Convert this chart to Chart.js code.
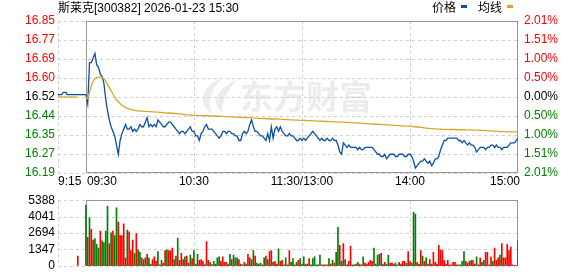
<!DOCTYPE html>
<html>
<head>
<meta charset="utf-8">
<script src="https://cdn.jsdelivr.net/npm/chart.js@4.4.1/dist/chart.umd.min.js"></script>
<style>
  html, body { margin: 0; padding: 0; background: #fff; }
  #wrap { position: relative; width: 578px; height: 276px; }
  canvas { position: absolute; left: 0; }
  #pc { top: 0; }
  #vc { top: 190px; }
</style>
</head>
<body>
<div id="wrap">
  <canvas id="pc" width="578" height="190"></canvas>
  <canvas id="vc" width="578" height="86"></canvas>
</div>
<script>
// 斯莱克[300382] 分时 2026-01-23
const title = "斯莱克[300382] 2026-01-23 15:30";
const legendNames = ["价格", "均线"];
const prevClose = 16.52;

// 横轴: 09:30 = 0, 单位 分钟
const xTickValues = [-15.5, 0, 60, 120, 180, 240];
const xTickLabels = ["9:15", "09:30", "10:30", "11:30/13:00", "14:00", "15:00"];

const priceTicks = [16.188, 16.271, 16.354, 16.437, 16.52, 16.603, 16.686, 16.769, 16.852];
const priceTickLabels = ["16.19", "16.27", "16.35", "16.44", "16.52", "16.60", "16.69", "16.77", "16.85"];
const pctTicks = [-2.01, -1.5075, -1.005, -0.5025, 0, 0.5025, 1.005, 1.5075, 2.01];
const pctTickLabels = ["2.01%", "1.51%", "1.00%", "0.50%", "0.00%", "0.50%", "1.00%", "1.51%", "2.01%"];
const volTicks = [0, 1347, 2694, 4041, 5388];
const volTickLabels = ["0", "1347", "2694", "4041", "5388"];

// 集合竞价 9:15-9:30
const preX = [-15.5, -13.5, -12.5, -11, -10.5, 0];
const prePrice = [16.53, 16.53, 16.54, 16.54, 16.53, 16.53];
const preAvgX = [-15.5, -5];
const preAvg = [16.52, 16.52];
const preVolX = [-4.5];
const preVol = [800];

// 每分钟价格 (09:30 ~ 15:00)
const price = [
  16.53,16.49,16.67,16.67,16.69,16.71,16.66,16.65,16.62,16.61,
  16.58,16.51,16.46,16.42,16.39,16.37,16.35,16.31,16.27,16.33,
  16.36,16.38,16.40,16.38,16.38,16.39,16.37,16.38,16.37,16.38,
  16.40,16.39,16.39,16.41,16.43,16.39,16.40,16.39,16.40,16.39,
  16.42,16.41,16.40,16.39,16.39,16.40,16.41,16.41,16.40,16.39,
  16.38,16.37,16.36,16.37,16.37,16.36,16.37,16.38,16.39,16.37,
  16.37,16.35,16.35,16.33,16.36,16.37,16.39,16.40,16.38,16.38,
  16.38,16.37,16.36,16.35,16.34,16.35,16.37,16.37,16.36,16.37,
  16.37,16.36,16.36,16.35,16.35,16.33,16.33,16.36,16.37,16.36,
  16.37,16.40,16.42,16.39,16.37,16.37,16.36,16.35,16.35,16.34,
  16.33,16.36,16.33,16.39,16.34,16.38,16.39,16.37,16.39,16.37,
  16.36,16.35,16.35,16.36,16.35,16.35,16.34,16.33,16.33,16.34,
  16.33,16.34,16.33,16.34,16.35,16.36,16.37,16.36,16.35,16.34,
  16.33,16.34,16.33,16.33,16.34,16.33,16.33,16.34,16.33,16.33,
  16.31,16.28,16.27,16.32,16.31,16.30,16.31,16.30,16.30,16.30,
  16.30,16.29,16.30,16.29,16.29,16.30,16.30,16.30,16.30,16.30,
  16.29,16.28,16.27,16.27,16.26,16.26,16.27,16.25,16.26,16.27,
  16.27,16.27,16.26,16.26,16.27,16.27,16.27,16.26,16.26,16.27,
  16.27,16.26,16.24,16.21,16.22,16.23,16.24,16.24,16.25,16.24,
  16.23,16.24,16.22,16.23,16.25,16.25,16.26,16.29,16.31,16.33,
  16.33,16.34,16.34,16.34,16.34,16.34,16.34,16.33,16.33,16.32,
  16.33,16.32,16.31,16.32,16.31,16.31,16.30,16.28,16.29,16.30,
  16.30,16.30,16.29,16.30,16.30,16.31,16.31,16.30,16.31,16.30,
  16.30,16.29,16.30,16.30,16.30,16.31,16.32,16.32,16.32,16.33,
  16.34
];

// 均价
const avgPrice = [
  16.520,16.512,16.540,16.570,16.590,16.600,16.605,16.607,16.607,16.606,
  16.600,16.590,16.575,16.560,16.548,16.532,16.520,16.507,16.500,16.492,
  16.485,16.479,16.475,16.471,16.468,16.466,16.464,16.462,16.460,16.459,
  16.458,16.458,16.457,16.457,16.457,16.456,16.456,16.455,16.455,16.454,
  16.454,16.453,16.453,16.452,16.451,16.450,16.450,16.449,16.449,16.448,
  16.448,16.447,16.446,16.445,16.444,16.443,16.442,16.441,16.441,16.441,
  16.440,16.440,16.440,16.439,16.439,16.439,16.438,16.438,16.438,16.437,
  16.437,16.437,16.436,16.436,16.436,16.435,16.435,16.434,16.434,16.433,
  16.433,16.433,16.432,16.432,16.432,16.431,16.431,16.431,16.430,16.430,
  16.430,16.430,16.429,16.429,16.428,16.428,16.427,16.427,16.426,16.426,
  16.426,16.425,16.425,16.424,16.424,16.424,16.423,16.423,16.423,16.422,
  16.422,16.421,16.421,16.420,16.420,16.420,16.419,16.419,16.419,16.418,
  16.418,16.418,16.418,16.417,16.417,16.417,16.416,16.416,16.416,16.415,
  16.415,16.414,16.414,16.413,16.413,16.412,16.412,16.412,16.411,16.411,
  16.410,16.410,16.410,16.410,16.409,16.409,16.409,16.408,16.408,16.407,
  16.407,16.406,16.406,16.405,16.405,16.404,16.404,16.403,16.403,16.402,
  16.402,16.401,16.401,16.400,16.400,16.399,16.399,16.398,16.398,16.397,
  16.397,16.396,16.396,16.395,16.395,16.394,16.394,16.393,16.393,16.393,
  16.393,16.392,16.391,16.390,16.389,16.388,16.387,16.386,16.385,16.384,
  16.383,16.383,16.382,16.381,16.381,16.380,16.380,16.380,16.379,16.379,
  16.379,16.379,16.378,16.378,16.378,16.378,16.377,16.377,16.377,16.377,
  16.377,16.376,16.376,16.376,16.376,16.375,16.375,16.375,16.375,16.374,
  16.374,16.374,16.373,16.373,16.372,16.372,16.371,16.371,16.370,16.370,
  16.369,16.369,16.369,16.368,16.368,16.368,16.368,16.368,16.368,16.368,
  16.368
];

// 成交量 (手)
const volume = [
  4980,2340,3950,3000,2120,2240,1760,1460,2850,2050,
  1900,2850,4900,1830,2710,2850,2490,4760,3590,2490,
  2490,3440,660,2930,2780,1240,2120,1020,2640,1320,
  1100,660,510,660,950,660,150,510,730,370,
  1170,70,440,220,1240,1320,1240,1240,1460,510,
  800,2270,440,1020,510,730,800,220,880,590,
  1240,150,950,440,510,370,100,1980,440,290,
  100,370,150,660,730,370,730,290,290,150,
  950,510,880,660,660,510,150,70,290,150,
  950,660,510,1240,800,220,150,220,70,660,
  800,510,1170,1240,290,370,150,1390,370,440,
  70,660,70,1240,290,590,70,290,440,590,
  150,730,150,150,590,70,590,730,70,70,
  880,70,70,70,70,590,150,440,220,1100,
  3150,1680,370,1830,510,70,370,1610,70,70,
  150,290,150,70,730,220,150,290,440,370,
  1460,150,880,950,1020,150,290,150,880,220,
  220,150,220,70,290,150,370,370,220,1170,
  340,220,4390,4250,290,150,1240,800,370,660,
  150,510,150,1100,290,150,1680,1320,1240,440,
  150,440,70,70,290,290,70,70,70,370,
  1170,370,220,370,440,440,150,730,70,660,
  290,440,1100,1100,70,730,370,1460,440,660,
  880,1830,660,660,1760,1240,1540,70,0,0,
  2050
];
// R = 上涨 (红), G = 下跌 (绿)
const volDir = (
  "GRGRRGGGRG" + "GGGRGRGGRR" + "RRRGRRRGRG" + "GRRGRGGRRR" +
  "GRGRRGRRRG" + "RGRRRGRRGR" + "GRGRRRGRRG" + "RGGGGRRRRG" +
  "GRGGGRRGRG" + "RRGGRGGGRG" + "RGRRGRRGRR" + "RGGRGGRGRG" +
  "GGGRRRGGGG" + "GRRRRGRGRG" + "GRGRGRRRGG" + "RGRRGRRRRR" +
  "GGGGRGRGGR" + "RRGRGRRRGR" + "RGGGRGRGRG" + "RRGRRRRRRR" +
  "RRRRRRRGGG" + "GRRRGRRGRR" + "GGRRRRGRRR" + "GRRRRRRRRR" +
  "R"
).split("");

const BLUE = "#0b4fa3";
const GOLD = "#dca52a";
const RED = "#ff0000";
const GREEN = "#008000";
const FONT = '"Liberation Sans", Arial, "Noto Sans CJK SC", sans-serif';
const CJK = '"Noto Sans CJK SC", "Liberation Sans", sans-serif';

Chart.defaults.font.family = FONT;
Chart.defaults.font.size = 12;

// 虚线网格 + 灰色外框
const gridBox = {
  id: "gridBox",
  beforeDatasetsDraw(chart, args, o) {
    const { ctx, chartArea: a } = chart;
    const xs = chart.scales.x, ys = chart.scales.y;
    ctx.save();
    ctx.lineWidth = 1;
    ctx.strokeStyle = "#cfcfcf";
    ctx.setLineDash([3, 3]);
    ctx.beginPath();
    ys.ticks.forEach(t => {
      const py = Math.round(ys.getPixelForValue(t.value)) + 0.5;
      ctx.moveTo(a.left, py);
      ctx.lineTo(a.right, py);
    });
    o.vLines.forEach(v => {
      const px = Math.round(xs.getPixelForValue(v)) + 0.5;
      ctx.moveTo(px, a.top);
      ctx.lineTo(px, a.bottom);
    });
    ctx.stroke();
    ctx.setLineDash([]);
    ctx.strokeStyle = "#959595";
    const l = Math.round(xs.getPixelForValue(o.boxFrom)) + 0.5;
    const r = Math.round(xs.getPixelForValue(o.boxTo)) - 0.5;
    const t = Math.round(a.top) + 0.5, b = Math.round(a.bottom) - 0.5;
    ctx.strokeRect(l, t, r - l, b - t);
    ctx.restore();
  }
};

// 水印
const watermark = {
  id: "watermark",
  beforeDatasetsDraw(chart) {
    const { ctx } = chart;
    ctx.save();
    ctx.fillStyle = "#ececec";
    ctx.beginPath();
    ctx.moveTo(222, 78);
    ctx.bezierCurveTo(200, 86, 198, 104, 212, 114);
    ctx.bezierCurveTo(206, 100, 212, 90, 222, 78);
    ctx.fill();
    ctx.beginPath();
    ctx.moveTo(236, 80);
    ctx.bezierCurveTo(214, 90, 212, 104, 222, 112);
    ctx.bezierCurveTo(222, 100, 228, 92, 236, 80);
    ctx.fill();
    ctx.font = "bold 33px " + CJK;
    ctx.textBaseline = "middle";
    ctx.fillText("东方财富", 240, 96);
    ctx.restore();
  }
};

// 标题, 图例, 时间轴文字
const labels = {
  id: "labels",
  afterDraw(chart) {
    const { ctx } = chart;
    const xs = chart.scales.x;
    ctx.save();
    ctx.textBaseline = "middle";
    ctx.fillStyle = "#000";
    ctx.font = "12px " + FONT;
    ctx.textAlign = "left";
    ctx.fillText(title, 58, 9);

    ctx.fillText(legendNames[0], 432, 9);
    ctx.fillStyle = BLUE;
    ctx.fillRect(461, 5, 6, 3);
    ctx.fillStyle = "#000";
    ctx.fillText(legendNames[1], 478, 9);
    ctx.fillStyle = GOLD;
    ctx.fillRect(507, 5, 6, 3);

    ctx.fillStyle = "#000";
    const aligns = ["left", "left", "center", "center", "center", "right"];
    xTickValues.forEach((v, i) => {
      ctx.textAlign = aligns[i];
      const px = xs.getPixelForValue(v) + (i === 1 ? 1 : 0) + (i === 5 ? 2 : 0);
      ctx.fillText(xTickLabels[i], px, 182);
    });
    ctx.restore();
  }
};

const upDownColor = (v, base) => v > base + 1e-9 ? RED : (v < base - 1e-9 ? GREEN : "#000");

new Chart(document.getElementById("pc"), {
  type: "line",
  data: {
    datasets: [
      { data: preX.map((x, i) => ({ x, y: prePrice[i] })), borderColor: BLUE },
      { data: preAvgX.map((x, i) => ({ x, y: preAvg[i] })), borderColor: GOLD },
      { data: avgPrice.map((y, i) => ({ x: i, y })), borderColor: GOLD },
      { data: price.map((y, i) => ({ x: i, y })), borderColor: BLUE }
    ]
  },
  options: {
    responsive: false,
    animation: false,
    events: [],
    layout: { padding: { top: 21, bottom: 17, left: 0, right: 0 } },
    elements: {
      line: { borderWidth: 1.3, tension: 0 },
      point: { radius: 0 }
    },
    plugins: {
      legend: { display: false },
      tooltip: { enabled: false },
      gridBox: { vLines: [-15.5, 60, 120, 180], boxFrom: 0, boxTo: 240 }
    },
    scales: {
      x: { type: "linear", display: false, min: -15.5, max: 240 },
      y: {
        position: "left",
        min: 16.188, max: 16.852,
        afterFit(s) { s.width = 58; },
        afterBuildTicks(s) { s.ticks = priceTicks.map(v => ({ value: v })); },
        ticks: {
          padding: 3,
          autoSkip: false,
          callback: (v, i) => priceTickLabels[i],
          color: c => upDownColor(c.tick.value, prevClose)
        },
        grid: { display: false, drawTicks: false },
        border: { display: false }
      },
      yr: {
        position: "right",
        min: -2.01, max: 2.01,
        afterFit(s) { s.width = 60; },
        afterBuildTicks(s) { s.ticks = pctTicks.map(v => ({ value: v })); },
        ticks: {
          padding: 6,
          autoSkip: false,
          callback: (v, i) => pctTickLabels[i],
          color: c => upDownColor(c.tick.value, 0)
        },
        grid: { display: false, drawTicks: false },
        border: { display: false }
      }
    }
  },
  plugins: [watermark, gridBox, labels]
});

new Chart(document.getElementById("vc"), {
  type: "bar",
  data: {
    datasets: [
      {
        data: preVolX.map((x, i) => ({ x, y: preVol[i] })),
        backgroundColor: RED,
        barThickness: 1,
        grouped: false
      },
      {
        data: volume.map((y, i) => ({ x: i, y })),
        backgroundColor: volDir.map(d => d === "R" ? RED : GREEN),
        barThickness: 1,
        grouped: false
      }
    ]
  },
  options: {
    responsive: false,
    animation: false,
    events: [],
    layout: { padding: { top: 6, bottom: 6, left: 0, right: 60 } },
    plugins: {
      legend: { display: false },
      tooltip: { enabled: false },
      gridBox: { vLines: [-15.5, 60, 120, 180], boxFrom: 0, boxTo: 240 }
    },
    scales: {
      x: { type: "linear", display: false, min: -15.5, max: 240, offset: false },
      y: {
        position: "left",
        min: 0, max: 5388,
        afterFit(s) { s.width = 58; },
        afterBuildTicks(s) { s.ticks = volTicks.map(v => ({ value: v })); },
        ticks: {
          padding: 3,
          autoSkip: false,
          color: "#000",
          callback: (v, i) => volTickLabels[i]
        },
        grid: { display: false, drawTicks: false },
        border: { display: false }
      }
    }
  },
  plugins: [gridBox]
});
</script>
</body>
</html>
